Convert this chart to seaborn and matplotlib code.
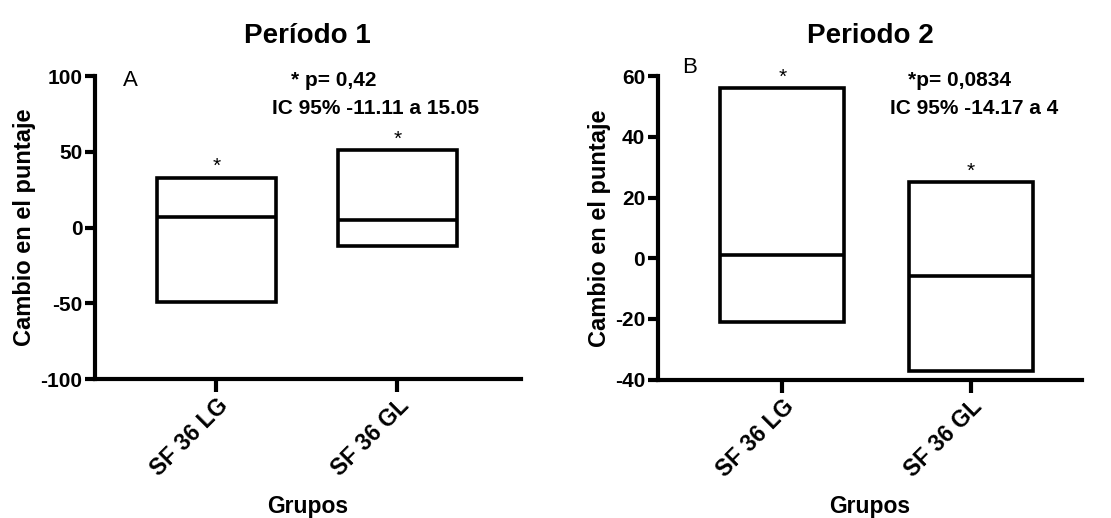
import numpy as np
import pandas as pd
import matplotlib.pyplot as plt
import seaborn as sns

sns.set_style("ticks")
plt.rcParams["font.family"] = ["Liberation Sans", "DejaVu Sans"]
plt.rcParams["text.color"] = "black"
plt.rcParams["axes.labelcolor"] = "black"
plt.rcParams["axes.edgecolor"] = "black"
plt.rcParams["xtick.color"] = "black"
plt.rcParams["ytick.color"] = "black"

# Data (min / median / max change in score)
grupos = ["SF 36 LG", "SF 36 GL"]
p1_min = [-49, -12]
p1_med = [7, 5]
p1_max = [33, 51]
p2_min = [-21, -37]
p2_med = [1, -5.7]
p2_max = [56, 25]

titles = ["Período 1", "Periodo 2"]
letters = ["A", "B"]
p_txt = ["* p= 0,42", "*p= 0,0834"]
ic_txt = ["IC 95% -11.11 a 15.05", "IC 95% -14.17 a 4"]

fig = plt.figure(figsize=(11.11, 5.18), dpi=100)
ax1 = fig.add_axes([0.0855, 0.268, 0.383, 0.585])
ax2 = fig.add_axes([0.592, 0.267, 0.382, 0.586])

panels = [
    (ax1, p1_min, p1_med, p1_max, (-100, 100), [-100, -50, 0, 50, 100], (-0.67, 1.68)),
    (ax2, p2_min, p2_med, p2_max, (-40, 60), [-40, -20, 0, 20, 40, 60], (-0.66, 1.59)),
]
width = 0.66

for i, (ax, mn, md, mx, ylim, yt, xlim) in enumerate(panels):
    df = pd.DataFrame({"Grupo": grupos, "rango": np.array(mx) - np.array(mn)})
    sns.barplot(data=df, x="Grupo", y="rango", bottom=mn, width=width,
                color="white", edgecolor="black", linewidth=2.6,
                errorbar=None, ax=ax, zorder=3)
    for j in range(len(grupos)):
        ax.hlines(md[j], j - width / 2, j + width / 2, color="black",
                  linewidth=2.6, zorder=4)
        ax.annotate("*", (j, mx[j]), xytext=(0, 1), textcoords="offset points",
                    ha="center", va="bottom", fontsize=15)
    ax.set_ylim(*ylim)
    ax.set_xlim(*xlim)
    ax.set_yticks(yt)
    ax.set_yticklabels([str(v) for v in yt], fontsize=15, fontweight="bold")
    ax.set_xticks(range(len(grupos)))
    ax.set_xticklabels(grupos, rotation=45, ha="right", rotation_mode="anchor",
                       fontsize=16.5, fontweight="bold")
    ax.set_xlabel("Grupos", fontsize=16.5, fontweight="bold", labelpad=10)
    ax.set_ylabel("Cambio en el puntaje", fontsize=17, fontweight="bold",
                  labelpad=3)
    ax.set_title(titles[i], fontsize=20, fontweight="bold", pad=24)
    sns.despine(ax=ax)
    for s in ["left", "bottom"]:
        ax.spines[s].set_linewidth(3)
    ax.tick_params(axis="both", width=3, length=7, pad=2)
    ax.tick_params(axis="x", length=9)
    ax.set_facecolor("white")

ax1.text(-0.475, 97.4, letters[0], fontsize=16, va="center", ha="center")
ax2.text(-0.49, 63, letters[1], fontsize=16, va="center", ha="center")
ax1.text(0.41, 97.4, p_txt[0], fontsize=15, fontweight="bold", va="center", ha="left")
ax1.text(0.31, 78.9, ic_txt[0], fontsize=15, fontweight="bold", va="center", ha="left")
ax2.text(0.665, 58.7, p_txt[1], fontsize=15, fontweight="bold", va="center", ha="left")
ax2.text(0.57, 49.5, ic_txt[1], fontsize=15, fontweight="bold", va="center", ha="left")

fig.savefig("out.png", dpi=100, facecolor="white")
